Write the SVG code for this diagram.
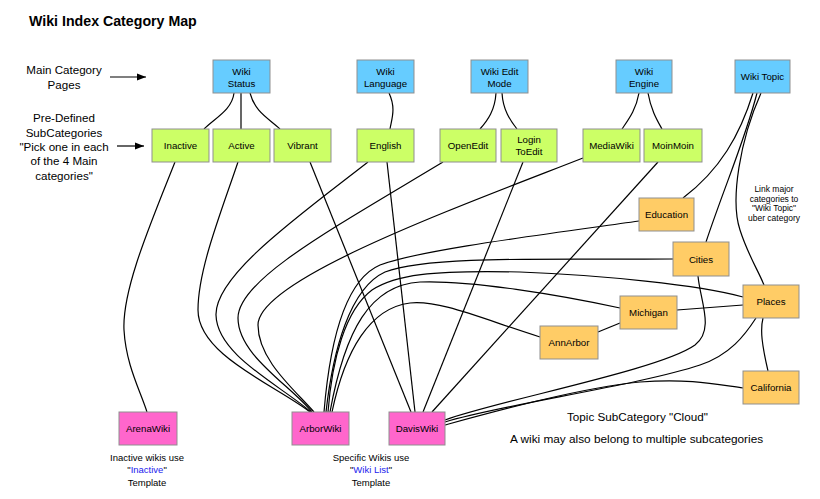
<svg xmlns="http://www.w3.org/2000/svg" width="820" height="499" viewBox="0 0 820 499">
<style>
text{font-family:"Liberation Sans",Arial,sans-serif;fill:#000}
.nt{font-size:9.7px;text-anchor:middle}
.box{stroke:#8f8f8f;stroke-width:1}
.main{fill:#66ccff}
.sub{fill:#ccff66}
.topic{fill:#ffcc66}
.wiki{fill:#ff66cc}
.edge{fill:none;stroke:#000;stroke-width:1.2}
.lbl{font-size:11.6px;text-anchor:middle}
.sm{font-size:8.5px;text-anchor:middle}
.bt{font-size:9.5px;text-anchor:middle}
.blue{fill:#2222ee}
</style>
<defs>
<marker id="arr" viewBox="0 0 10 10" refX="10" refY="5" markerWidth="9" markerHeight="9" markerUnits="userSpaceOnUse" orient="auto">
<path d="M0,1 L10,5 L0,9 z" fill="#000"/>
</marker>
</defs>
<rect width="820" height="499" fill="#fff"/>
<text x="29" y="26" style="font-size:14.2px;font-weight:bold">Wiki Index Category Map</text>
<g id="labels">
<text class="lbl" x="64" y="74">Main Category</text>
<text class="lbl" x="64" y="89">Pages</text>
<text class="lbl" x="64" y="122">Pre-Defined</text>
<text class="lbl" x="64" y="136.5">SubCategories</text>
<text class="lbl" x="64" y="151">"Pick one in each</text>
<text class="lbl" x="64" y="165">of the 4 Main</text>
<text class="lbl" x="64" y="179.5">categories"</text>
<text class="sm" x="774" y="192">Link major</text>
<text class="sm" x="774" y="201.5">categories to</text>
<text class="sm" x="774" y="211">"Wiki Topic"</text>
<text class="sm" x="774" y="220.5">uber category</text>
<text x="567" y="421" style="font-size:11.7px">Topic SubCategory "Cloud"</text>
<text x="510" y="443" style="font-size:11.8px">A wiki may also belong to multiple subcategories</text>
<text class="bt" x="147" y="460.5">Inactive wikis use</text>
<text class="bt" x="147" y="473">"<tspan class="blue">Inactive</tspan>"</text>
<text class="bt" x="147" y="485.5">Template</text>
<text class="bt" x="371" y="460.5">Specific Wikis use</text>
<text class="bt" x="371" y="473">"<tspan class="blue">Wiki List</tspan>"</text>
<text class="bt" x="371" y="485.5">Template</text>
</g>
<g id="connectors">
<line class="edge" x1="110" y1="77" x2="146" y2="77" marker-end="url(#arr)"/>
<line class="edge" x1="117" y1="146" x2="144" y2="146" marker-end="url(#arr)"/>
<path class="edge" d="M234,93 C232,110 215,118 204,129"/>
<path class="edge" d="M241,93 L241,129"/>
<path class="edge" d="M250,93 C255,112 268,118 280,129"/>
<path class="edge" d="M389,93 C396,108 392,118 390,129"/>
<path class="edge" d="M496,93 C495,110 488,120 480,129"/>
<path class="edge" d="M502,93 C503,110 510,120 517,129"/>
<path class="edge" d="M639,93 C636,110 628,120 622,129"/>
<path class="edge" d="M648,93 C651,110 657,120 662,129"/>
<path class="edge" d="M753,93 C740,135 720,170 683,198"/>
<path class="edge" d="M757,93 C745,140 725,185 706,242"/>
<path class="edge" d="M761,93 C740,140 730,200 740,230 C748,255 758,270 764,285"/>
<path class="edge" d="M175,162 C150,225 122,290 124,330 C126,365 140,390 147,412"/>
<path class="edge" d="M238,162 C220,215 198,270 198,310 C198,355 275,385 310,412"/>
<path class="edge" d="M368,162 C300,215 215,275 216,315 C217,355 280,385 311,412"/>
<path class="edge" d="M443,162 C330,230 238,280 238,318 C238,355 290,385 312,412"/>
<path class="edge" d="M583,158 C450,210 258,280 258,325 C258,360 295,390 314,412"/>
<path class="edge" d="M639,221 C540,235 420,250 380,265 C345,280 330,340 324,412"/>
<path class="edge" d="M673,259 C560,260 430,255 385,272 C350,288 333,350 326,412"/>
<path class="edge" d="M743,297 C700,285 600,275 520,272 C430,270 395,275 372,290 C345,310 332,360 328,412"/>
<path class="edge" d="M620,308 C560,295 470,280 420,282 C370,285 345,330 330,412"/>
<path class="edge" d="M540,337 C480,318 440,300 410,303 C370,308 345,350 332,412"/>
<path class="edge" d="M310,162 L411,412"/>
<path class="edge" d="M387,162 L415,412"/>
<path class="edge" d="M523,162 L423,412"/>
<path class="edge" d="M658,162 L432,412"/>
<path class="edge" d="M698,276 C700,300 715,330 695,345 C660,370 500,400 445,420"/>
<path class="edge" d="M756,318 C745,335 730,355 700,365 C640,385 500,405 445,422"/>
<path class="edge" d="M743,388 C720,385 690,378 640,382 C580,388 500,410 445,425"/>
<path class="edge" d="M763,318 C760,330 762,345 768,371"/>
<path class="edge" d="M677,310 L743,305"/>
<path class="edge" d="M598,332 L620,323"/>
</g>
<g id="n-wikistatus"><rect class="box main" x="213" y="60" width="57" height="33"/><text class="nt" x="241.5" y="75">Wiki</text><text class="nt" x="241.5" y="87">Status</text></g>
<g id="n-wikilanguage"><rect class="box main" x="357" y="60" width="57" height="33"/><text class="nt" x="385.5" y="75">Wiki</text><text class="nt" x="385.5" y="87">Language</text></g>
<g id="n-wikieditmode"><rect class="box main" x="471" y="60" width="57" height="33"/><text class="nt" x="499.5" y="75">Wiki Edit</text><text class="nt" x="499.5" y="87">Mode</text></g>
<g id="n-wikiengine"><rect class="box main" x="616" y="60" width="56" height="33"/><text class="nt" x="644" y="75">Wiki</text><text class="nt" x="644" y="87">Engine</text></g>
<g id="n-wikitopic"><rect class="box main" x="735" y="60" width="55" height="33"/><text class="nt" x="762.5" y="80">Wiki Topic</text></g>
<g id="n-inactive"><rect class="box sub" x="152" y="129" width="57" height="33"/><text class="nt" x="180.5" y="149">Inactive</text></g>
<g id="n-active"><rect class="box sub" x="213" y="129" width="57" height="33"/><text class="nt" x="241.5" y="149">Active</text></g>
<g id="n-vibrant"><rect class="box sub" x="274" y="129" width="57" height="33"/><text class="nt" x="302.5" y="149">Vibrant</text></g>
<g id="n-english"><rect class="box sub" x="357" y="129" width="57" height="33"/><text class="nt" x="385.5" y="149">English</text></g>
<g id="n-openedit"><rect class="box sub" x="440" y="129" width="56" height="33"/><text class="nt" x="468" y="149">OpenEdit</text></g>
<g id="n-logintoedit"><rect class="box sub" x="501" y="129" width="56" height="33"/><text class="nt" x="529" y="143">Login</text><text class="nt" x="529" y="155">ToEdit</text></g>
<g id="n-mediawiki"><rect class="box sub" x="583" y="129" width="57" height="33"/><text class="nt" x="611.5" y="149">MediaWiki</text></g>
<g id="n-moinmoin"><rect class="box sub" x="644" y="129" width="58" height="33"/><text class="nt" x="673" y="149">MoinMoin</text></g>
<g id="n-education"><rect class="box topic" x="639" y="198" width="55" height="33"/><text class="nt" x="666.5" y="218">Education</text></g>
<g id="n-cities"><rect class="box topic" x="673" y="242" width="56" height="34"/><text class="nt" x="701" y="263">Cities</text></g>
<g id="n-places"><rect class="box topic" x="743" y="285" width="56" height="33"/><text class="nt" x="771" y="305">Places</text></g>
<g id="n-michigan"><rect class="box topic" x="620" y="296" width="57" height="33"/><text class="nt" x="648.5" y="316">Michigan</text></g>
<g id="n-annarbor"><rect class="box topic" x="540" y="326" width="58" height="33"/><text class="nt" x="569" y="346">AnnArbor</text></g>
<g id="n-california"><rect class="box topic" x="743" y="371" width="56" height="33"/><text class="nt" x="771" y="391">California</text></g>
<g id="n-arenawiki"><rect class="box wiki" x="119" y="412" width="58" height="33"/><text class="nt" x="148" y="432">ArenaWiki</text></g>
<g id="n-arborwiki"><rect class="box wiki" x="292" y="412" width="57" height="33"/><text class="nt" x="320.5" y="432">ArborWiki</text></g>
<g id="n-daviswiki"><rect class="box wiki" x="389" y="412" width="56" height="33"/><text class="nt" x="417" y="432">DavisWiki</text></g>
</svg>
